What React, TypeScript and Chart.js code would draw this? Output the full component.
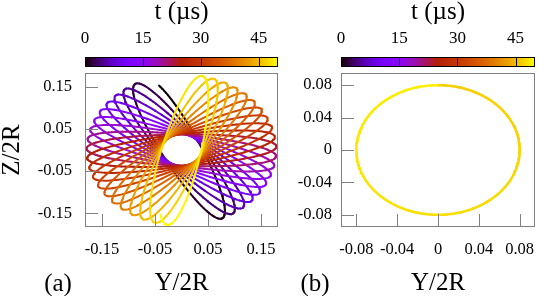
import React, { useEffect, useRef } from "react";
import { Chart, registerables } from "chart.js";
Chart.register(...registerables);

const FONT = '"Liberation Serif", "Times New Roman", serif';

// ---- colour bar (time, µs) ----
const T_MIN = 0;
const T_MAX = 50;
const CB_TICKS = [0, 15, 30, 45];
const CB_LABELS = ["0", "15", "30", "45"];

// ---- panel (a): precessing elliptical orbit ----
// orientation of the ellipse's major axis at the start of each loop (degrees)
const A_TILT_DEG = [112, 119.5, 127, 134.5, 142, 149.5, 157, 164.5, 172, 179.5, 187, 194.5, 202, 209.5, 217, 224.5, 232, 239.5, 247, 254.5, 262];
const A_SEMI_MAJOR = 0.179;
const A_SEMI_MINOR = 0.037;
const A_START_PHASE = -0.5; // rad, where the orbit starts on the first ellipse
const A_RANGE = [-0.182, 0.182];
const A_TICKS = [-0.15, -0.05, 0.05, 0.15];
const A_TICK_LABELS = ["-0.15", "-0.05", "0.05", "0.15"];

// ---- panel (b): circular orbit (last revolution visible) ----
const B_RADIUS = 0.08;
const B_T_SPAN = [46.5, 49];
const B_RANGE = [-0.095, 0.095];
const B_TICKS = [-0.08, -0.04, 0, 0.04, 0.08];
const B_TICK_LABELS = ["-0.08", "-0.04", "0", "0.04", "0.08"];

const STEPS_PER_LOOP = 120;

function palette(x: number): string {
  const v = Math.max(0, Math.min(1, x));
  const r = Math.sqrt(v);
  const g = v * v * v;
  const b = Math.max(0, Math.sin(2 * Math.PI * v));
  return `rgb(${Math.round(r * 255)},${Math.round(g * 255)},${Math.round(b * 255)})`;
}

function buildA() {
  const pts: { x: number; y: number }[] = [];
  const ts: number[] = [];
  const loops = A_TILT_DEG.length - 1;
  for (let k = 0; k <= loops; k++) {
    const last = k === loops;
    const steps = last ? 1 : STEPS_PER_LOOP;
    for (let j = 0; j < steps; j++) {
      const f = j / STEPS_PER_LOOP;
      const th = last
        ? (A_TILT_DEG[k] * Math.PI) / 180
        : ((A_TILT_DEG[k] + (A_TILT_DEG[k + 1] - A_TILT_DEG[k]) * f) * Math.PI) / 180;
      const ph = A_START_PHASE - 2 * Math.PI * (k + f);
      const u = A_SEMI_MAJOR * Math.cos(ph);
      const w = A_SEMI_MINOR * Math.sin(ph);
      pts.push({ x: u * Math.cos(th) - w * Math.sin(th), y: u * Math.sin(th) + w * Math.cos(th) });
      ts.push(T_MIN + ((k + f) / loops) * (T_MAX - T_MIN));
    }
  }
  return { pts, ts };
}

function buildB() {
  const pts: { x: number; y: number }[] = [];
  const ts: number[] = [];
  const n = 240;
  for (let j = 0; j <= n; j++) {
    const f = j / n;
    const ph = Math.PI / 2 - 2 * Math.PI * f;
    pts.push({ x: B_RADIUS * Math.cos(ph), y: B_RADIUS * Math.sin(ph) });
    ts.push(B_T_SPAN[0] + (B_T_SPAN[1] - B_T_SPAN[0]) * f);
  }
  return { pts, ts };
}

const deco = {
  id: "deco",
  afterDraw(chart: any, _args: any, opts: any) {
    const { ctx, chartArea, scales } = chart;
    const { left, right, top, bottom } = chartArea;
    ctx.save();
    // frame
    ctx.strokeStyle = "#808080";
    ctx.lineWidth = 1;
    ctx.strokeRect(left + 0.5, top + 0.5, right - left - 1, bottom - top - 1);
    // inner tick marks
    const tl = 13;
    for (const v of opts.xTicks) {
      const px = Math.round(scales.x.getPixelForValue(v)) + 0.5;
      ctx.beginPath();
      ctx.moveTo(px, bottom);
      ctx.lineTo(px, bottom - tl);
      ctx.stroke();
    }
    for (const v of opts.yTicks) {
      const py = Math.round(scales.y.getPixelForValue(v)) + 0.5;
      ctx.beginPath();
      ctx.moveTo(left, py);
      ctx.lineTo(left + tl, py);
      ctx.stroke();
    }
    // colour bar
    const cb = scales.cb;
    const y0 = 57;
    const h = 10;
    for (let px = Math.floor(left); px < right; px++) {
      const t = cb.getValueForPixel(px + 0.5);
      ctx.fillStyle = palette((t - T_MIN) / (T_MAX - T_MIN));
      ctx.fillRect(px, y0, 1, h);
    }
    ctx.strokeStyle = "#000";
    ctx.strokeRect(left + 0.5, y0 + 0.5, right - left - 1, h - 1);
    for (const v of CB_TICKS) {
      if (v === T_MIN) continue;
      const px = Math.round(cb.getPixelForValue(v)) + 0.5;
      ctx.beginPath();
      ctx.moveTo(px, y0);
      ctx.lineTo(px, y0 + h);
      ctx.stroke();
    }
    // panel letter
    ctx.fillStyle = "#000";
    ctx.font = `25px ${FONT}`;
    ctx.textAlign = "center";
    ctx.textBaseline = "middle";
    ctx.fillText(opts.letter, opts.letterX, 284);
    ctx.restore();
  },
};

function makeConfig(panel: "a" | "b") {
  const isA = panel === "a";
  const { pts, ts } = isA ? buildA() : buildB();
  const range = isA ? A_RANGE : B_RANGE;
  const ticks = isA ? A_TICKS : B_TICKS;
  const labels = isA ? A_TICK_LABELS : B_TICK_LABELS;
  const tickFont = { family: FONT, size: 16.5 };
  const titleFont = { family: FONT, size: 25, lineHeight: 1 };
  return {
    type: "scatter" as const,
    data: {
      datasets: [
        {
          data: pts,
          xAxisID: "x",
          yAxisID: "y",
          showLine: true,
          pointRadius: 0,
          borderWidth: isA ? 2 : 2.6,
          borderCapStyle: "round",
          borderJoinStyle: "round",
          tension: 0,
          borderColor: palette(1),
          segment: {
            borderColor: (c: any) => palette((ts[c.p0DataIndex] - T_MIN) / (T_MAX - T_MIN)),
          },
        },
      ],
    },
    options: {
      animation: false,
      responsive: false,
      devicePixelRatio: 1,
      events: [],
      layout: { padding: { left: 0, top: 0, bottom: 0, right: isA ? 12 : 3 } },
      plugins: {
        legend: { display: false },
        tooltip: { enabled: false },
        deco: { letter: isA ? "(a)" : "(b)", letterX: isA ? 58 : 25, xTicks: ticks, yTicks: ticks },
      },
      scales: {
        x: {
          type: "linear",
          position: "bottom",
          min: range[0],
          max: range[1],
          afterBuildTicks: (s: any) => {
            s.ticks = ticks.map((v) => ({ value: v }));
          },
          afterFit: (s: any) => {
            s.height = 69;
            s.paddingLeft = 0;
            s.paddingRight = 0;
          },
          grid: { display: false, drawTicks: false },
          border: { display: false },
          ticks: {
            font: tickFont,
            color: "#000",
            padding: 13,
            maxRotation: 0,
            autoSkip: false,
            callback: (_v: any, i: number) => labels[i],
          },
          title: { display: true, text: "Y/2R", font: titleFont, color: "#000", padding: 0 },
        },
        y: {
          type: "linear",
          position: "left",
          min: range[0],
          max: range[1],
          afterBuildTicks: (s: any) => {
            s.ticks = ticks.map((v) => ({ value: v }));
          },
          afterFit: (s: any) => {
            s.width = isA ? 85 : 51;
            s.paddingTop = 0;
            s.paddingBottom = 0;
          },
          grid: { display: false, drawTicks: false },
          border: { display: false },
          ticks: {
            font: tickFont,
            color: "#000",
            padding: isA ? 13 : 9,
            autoSkip: false,
            callback: (_v: any, i: number) => labels[i],
          },
          title: { display: isA, text: "Z/2R", font: titleFont, color: "#000", padding: 0 },
        },
        cb: {
          type: "linear",
          axis: "x",
          position: "top",
          min: T_MIN,
          max: T_MAX,
          afterBuildTicks: (s: any) => {
            s.ticks = CB_TICKS.map((v) => ({ value: v }));
          },
          afterFit: (s: any) => {
            s.height = 73;
            s.paddingLeft = 0;
            s.paddingRight = 0;
          },
          grid: { display: false, drawTicks: false },
          border: { display: false },
          ticks: {
            font: { family: FONT, size: 17 },
            color: "#000",
            padding: 24,
            maxRotation: 0,
            autoSkip: false,
            callback: (_v: any, i: number) => CB_LABELS[i],
          },
          title: { display: true, text: "t (µs)", font: titleFont, color: "#000", padding: 0 },
        },
      },
    },
    plugins: [deco],
  };
}

function Panel({ panel, left, width }: { panel: "a" | "b"; left: number; width: number }) {
  const ref = useRef<HTMLCanvasElement | null>(null);
  useEffect(() => {
    if (!ref.current) return;
    const chart = new Chart(ref.current, makeConfig(panel) as any);
    return () => chart.destroy();
  }, [panel]);
  return (
    <div style={{ position: "absolute", left, top: 0, width, height: 296 }}>
      <canvas ref={ref} width={width} height={296} style={{ width, height: 296, display: "block" }} />
    </div>
  );
}

export default function App() {
  return (
    <div style={{ position: "fixed", left: 0, top: 0, width: 538, height: 296, background: "#fff", overflow: "hidden" }}>
      <Panel panel="a" left={0} width={290} />
      <Panel panel="b" left={290} width={248} />
    </div>
  );
}
